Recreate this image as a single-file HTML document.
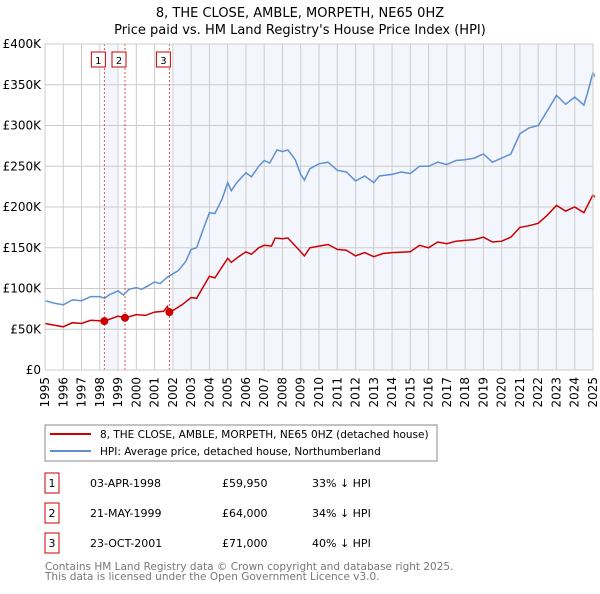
<!DOCTYPE html>
<html><head><meta charset="utf-8"><style>
body{margin:0;background:#fff;font-family:"DejaVu Sans","Liberation Sans",sans-serif;}
svg text{font-family:"DejaVu Sans","Liberation Sans",sans-serif;}
</style></head><body>
<svg id="c" width="600" height="590" xmlns="http://www.w3.org/2000/svg">
<text x="300" y="17" text-anchor="middle" font-size="13">8, THE CLOSE, AMBLE, MORPETH, NE65 0HZ</text>
<text x="300" y="34" text-anchor="middle" font-size="13">Price paid vs. HM Land Registry's House Price Index (HPI)</text>
<g id="plot"></g>
<rect x="45" y="425" width="392" height="36" fill="#fff" stroke="#888"/>
<line x1="50" y1="434" x2="91" y2="434" stroke="#cc0000" stroke-width="2"/>
<text x="100" y="438" font-size="10.5">8, THE CLOSE, AMBLE, MORPETH, NE65 0HZ (detached house)</text>
<line x1="50" y1="451" x2="91" y2="451" stroke="#6090d0" stroke-width="2"/>
<text x="100" y="455" font-size="10.5">HPI: Average price, detached house, Northumberland</text>
<g id="tbl" font-size="11"></g>
<text x="45" y="570" font-size="10.5" fill="#777">Contains HM Land Registry data © Crown copyright and database right 2025.</text>
<text x="45" y="580" font-size="10.5" fill="#777">This data is licensed under the Open Government Licence v3.0.</text>
</svg>
<script>
const hpiYears=[1995,1995.5,1996,1996.5,1997,1997.5,1998,1998.25,1998.5,1999,1999.3,1999.6,2000,2000.3,2000.7,2001,2001.3,2001.7,2002,2002.3,2002.7,2003,2003.3,2003.7,2004,2004.3,2004.7,2005,2005.2,2005.5,2006,2006.3,2006.7,2007,2007.3,2007.7,2008,2008.3,2008.7,2009,2009.2,2009.5,2010,2010.5,2011,2011.5,2012,2012.5,2013,2013.3,2014,2014.5,2015,2015.5,2016,2016.5,2017,2017.5,2018,2018.5,2019,2019.5,2020,2020.5,2021,2021.5,2022,2022.5,2023,2023.5,2024,2024.5,2024.7,2025,2025.1];
const hpiValues=[85,82,80,86,85,90,90,88,92,97,92,99,101,99,104,108,106,114,118,122,133,148,150,175,193,192,210,230,220,230,242,237,250,257,254,270,268,270,258,240,233,247,253,255,245,243,232,238,230,238,240,243,241,250,250,255,252,257,258,260,265,255,260,265,290,297,300,318,337,326,335,325,340,365,360];
const ppYears=[1995,1996,1996.5,1997,1997.5,1998.25,1999,1999.38,2000,2000.5,2001,2001.5,2001.7,2001.81,2002,2002.5,2003,2003.3,2004,2004.3,2005,2005.2,2005.6,2006,2006.3,2006.7,2007,2007.4,2007.6,2008,2008.3,2009,2009.2,2009.5,2010,2010.5,2011,2011.5,2012,2012.5,2013,2013.5,2014,2015,2015.5,2016,2016.5,2017,2017.5,2018,2018.5,2019,2019.5,2020,2020.5,2021,2021.5,2022,2022.5,2023,2023.5,2024,2024.5,2025,2025.1];
const ppValues=[57,53,58,57,61,60,66,64,68,67,71,72,78,71,73,80,89,88,115,113,137,132,139,145,142,150,153,152,162,161,162,145,140,150,152,154,148,147,140,144,139,143,144,145,153,150,157,155,158,159,160,163,157,158,163,175,177,180,190,202,195,200,193,215,212];
const saleYears=[1998.25,1999.38,2001.81];
const saleValues=[59.95,64,71];
const saleLabels=["1","2","3"];
const saleDates=["03-APR-1998","21-MAY-1999","23-OCT-2001"];
const salePrices=["£59,950","£64,000","£71,000"];
const salePcts=["33% ↓ HPI","34% ↓ HPI","40% ↓ HPI"];
const yTicks=[0,50,100,150,200,250,300,350,400];
const yTickLabels=["£0","£50K","£100K","£150K","£200K","£250K","£300K","£350K","£400K"];
const xTicks=[1995,1996,1997,1998,1999,2000,2001,2002,2003,2004,2005,2006,2007,2008,2009,2010,2011,2012,2013,2014,2015,2016,2017,2018,2019,2020,2021,2022,2023,2024,2025];

const NS="http://www.w3.org/2000/svg";
const L=45,R=593,T=44,B=370;
const x=v=>L+(v-1995)/30*(R-L);
const y=v=>B-v/400*(B-T);
const plot=document.getElementById('plot');
function mk(tag,attrs,parent){const e=document.createElementNS(NS,tag);for(const k in attrs)e.setAttribute(k,attrs[k]);(parent||plot).appendChild(e);return e;}
let bg=mk('rect',{x:L,y:T,width:R-L,height:B-T,fill:'#fff'});


let sh1=mk('rect',{x:x(saleYears[0]),y:T,width:x(1999)-x(saleYears[0]),height:B-T,fill:'#f3f6fd'});


let sh2=mk('rect',{x:x(2002),y:T,width:R-x(2002),height:B-T,fill:'#f3f6fd'});


xTicks.forEach(t=>{
 let g=mk('line',{x1:x(t),x2:x(t),y1:T,y2:B,stroke:'#ccc','stroke-width':1});
 
 
 let tx=mk('text',{x:0,y:0,'font-size':12,'text-anchor':'end',transform:`translate(${x(t)+4},${B+7}) rotate(-90)`});
 tx.textContent=t;
 
 
});
yTicks.forEach((t,i)=>{
 let g=mk('line',{x1:L,x2:R,y1:y(t),y2:y(t),stroke:'#ccc','stroke-width':1});
 
 
 let tx=mk('text',{x:41,y:y(t)+4,'font-size':12,'text-anchor':'end'});
 tx.textContent=yTickLabels[i];
 
 
});
saleYears.forEach((s,i)=>{
 let v=mk('line',{x1:x(s),x2:x(s),y1:T,y2:B,stroke:'#e05050','stroke-dasharray':'2,2','stroke-width':1});
 
 
 let b=mk('rect',{x:x(s)-13,y:52,width:14,height:15,fill:'#fff',stroke:'#cc0000'});
 
 
 let t=mk('text',{x:x(s)-6,y:64,'font-size':10,'text-anchor':'middle'});
 t.textContent=saleLabels[i];
 
 
});
function path(xs,vs,col,name){
 let d=xs.map((t,i)=>(i?'L':'M')+x(t).toFixed(1)+','+y(vs[i]).toFixed(1)).join('');
 let p=mk('path',{d:d,fill:'none',stroke:col,'stroke-width':1.5});
 
 
}
path(hpiYears,hpiValues,'#6090d0','hpi-line');
path(ppYears,ppValues,'#cc0000','price-paid-line');
saleYears.forEach((s,i)=>{
 let c=mk('circle',{cx:x(s),cy:y(saleValues[i]),r:4,fill:'#cc0000'});
 
 
});
let ax=mk('rect',{x:L,y:T,width:R-L,height:B-T,fill:'none',stroke:'#ccc'});


const tbl=document.getElementById('tbl');
saleDates.forEach((d,i)=>{
 const cy=483+i*30;
 let b=mk('rect',{x:45,y:cy-10,width:14,height:20,fill:'#fff',stroke:'#cc0000'},tbl);
 
 
 const cols=[[52,saleLabels[i],'middle','table-row-number'],[90,d,'start','table-row-date'],[222,salePrices[i],'start','table-row-price'],[312,salePcts[i],'start','table-row-hpi-diff']];
 cols.forEach(c=>{
  let t=mk('text',{x:c[0],y:cy+4,'text-anchor':c[2]},tbl);
  t.textContent=c[1];
  
  
 });
});
</script>
</body></html>
